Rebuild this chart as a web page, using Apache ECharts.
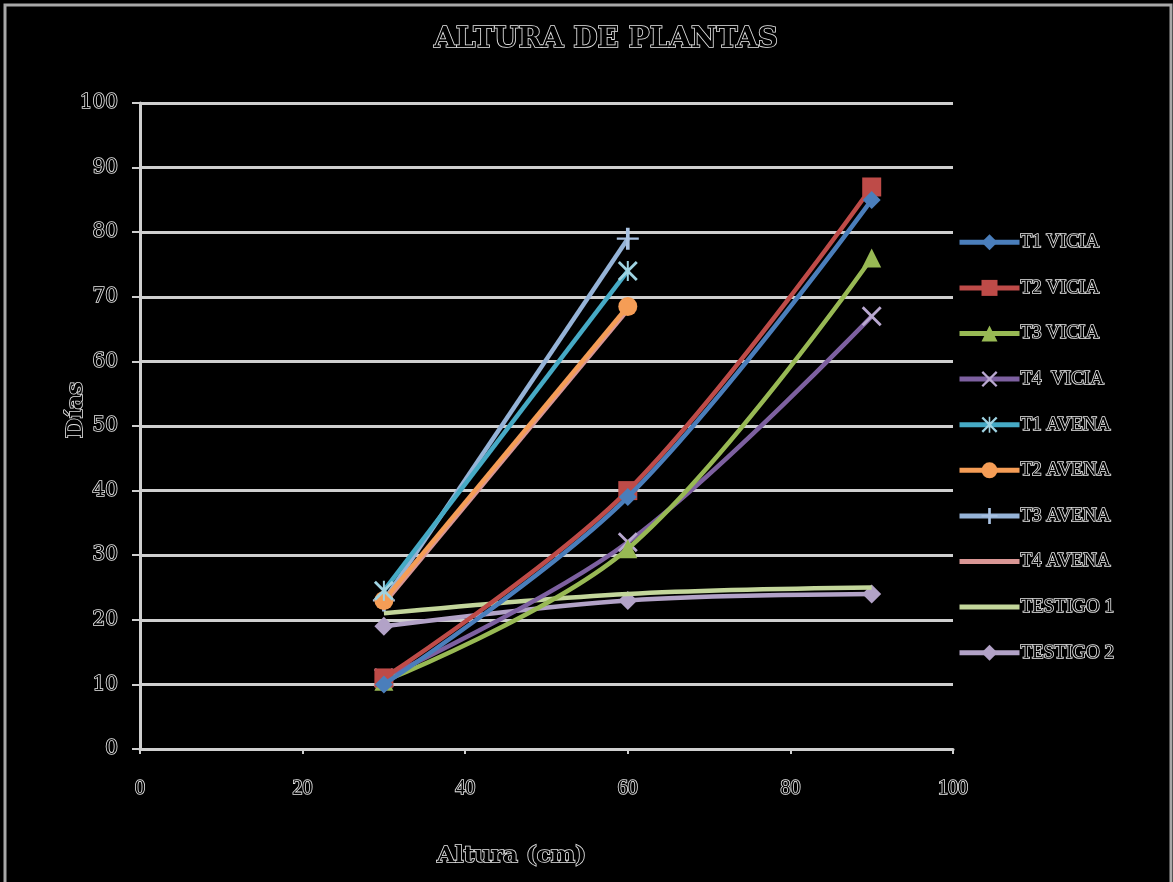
<!DOCTYPE html>
<html>
<head>
<meta charset="utf-8">
<script src="https://cdn.jsdelivr.net/npm/echarts@6/dist/echarts.min.js"></script>
<style>
  html, body { margin: 0; padding: 0; background: #000; }
  #chart { width: 1173px; height: 882px; }
</style>
</head>
<body>
<div id="chart"></div>
<script>
// Plant height measurements (x = height in cm, y = days)
const seriesNames = ['T1 VICIA', 'T2 VICIA', 'T3 VICIA', 'T4  VICIA', 'T1 AVENA',
                     'T2 AVENA', 'T3 AVENA', 'T4 AVENA', 'TESTIGO 1', 'TESTIGO 2'];
const xVicia = [30, 60, 90];
const xAvena = [30, 60];
const t1Vicia = [10, 39, 85];
const t2Vicia = [11, 40, 87];
const t3Vicia = [10.5, 31, 76];
const t4Vicia = [11, 32, 67];
const t1Avena = [24.5, 74];
const t2Avena = [23, 68.5];
const t3Avena = [23, 79];
const t4Avena = [22.5, 68];
const testigo1 = [21, 24, 25];
const testigo2 = [19, 23, 24];
const yTicks = [0, 10, 20, 30, 40, 50, 60, 70, 80, 90, 100];
const xTicks = [0, 20, 40, 60, 80, 100];

const seriesValues = [t1Vicia, t2Vicia, t3Vicia, t4Vicia, t1Avena, t2Avena, t3Avena, t4Avena, testigo1, testigo2];
const seriesX = [xVicia, xVicia, xVicia, xVicia, xAvena, xAvena, xAvena, xAvena, xVicia, xVicia];

const lineColors = ['#4a7ebb', '#be4b48', '#98b954', '#7d60a0', '#46aac5',
                    '#f59d56', '#95b3d7', '#d99694', '#c3d69b', '#b2a2c7'];
const markColors = ['#4a7ebb', '#be4b48', '#98b954', '#b9a8d0', '#9fd3e2',
                    '#f59d56', '#a9c2e2', '#d99694', '#c3d69b', '#b2a2c7'];

const crossPath = 'path://M0,1 L1,0 L5,4 L9,0 L10,1 L6,5 L10,9 L9,10 L5,6 L1,10 L0,9 L4,5 Z';
const starPath = 'path://M0,1 L1,0 L5,4 L9,0 L10,1 L6,5 L10,9 L9,10 L5,6 L1,10 L0,9 L4,5 Z M4.5,0 L5.5,0 L5.5,10 L4.5,10 Z';
const plusPath = 'path://M4.5,0 L5.5,0 L5.5,10 L4.5,10 Z M2,4.5 L8,4.5 L8,5.5 L2,5.5 Z';
const symbols = ['diamond', 'rect', 'triangle', crossPath, starPath, 'circle', plusPath, 'none', 'none', 'diamond'];
const symbolSizes = [18, 19, 19, 20, 20, 19, 22, 0, 0, 19];

const serif = '"Liberation Serif", "DejaVu Serif", serif';
const wideSerif = '"DejaVu Serif", serif';
const outlined = {
  color: '#000',
  textBorderColor: '#e6e6e6',
  textBorderWidth: 1.6,
  fontFamily: serif
};

const series = seriesNames.map((name, i) => ({
  name: name,
  type: 'line',
  smooth: 0.35,
  data: seriesX[i].map((x, j) => [x, seriesValues[i][j]]),
  symbol: symbols[i],
  symbolSize: symbolSizes[i],
  showSymbol: symbols[i] !== 'none',
  lineStyle: { color: lineColors[i], width: 4.5 },
  itemStyle: { color: markColors[i] },
  emphasis: { disabled: true },
  z: 10 - i
}));

// legend entries: line-only series get no marker in their icon
const legendData = seriesNames.map((name, i) => (
  symbols[i] === 'none'
    ? { name: name, itemStyle: { opacity: 0 } }
    : { name: name }
));

const chart = echarts.init(document.getElementById('chart'), null, { renderer: 'canvas' });
chart.setOption({
  backgroundColor: '#000',
  animation: false,
  title: {
    text: 'ALTURA DE PLANTAS',
    left: 601,
    top: 21,
    textAlign: 'center',
    textStyle: Object.assign({}, outlined, { fontFamily: wideSerif, fontSize: 28, fontWeight: 'bold' })
  },
  graphic: [{
    type: 'rect',
    shape: { x: 5, y: 5, width: 1166, height: 880 },
    style: { fill: 'none', stroke: '#a8a8a8', lineWidth: 3 },
    silent: true
  }],
  legend: {
    orient: 'vertical',
    left: 952,
    top: 227,
    itemWidth: 60,
    itemHeight: 20,
    itemGap: 25,
    data: legendData,
    lineStyle: { width: 5 },
    textStyle: Object.assign({}, outlined, { fontSize: 19, lineHeight: 20, padding: [0, 0, 0, -4] })
  },
  grid: { left: 140, right: 220, top: 103, bottom: 133, containLabel: false },
  xAxis: {
    type: 'value',
    min: xTicks[0],
    max: xTicks[xTicks.length - 1],
    interval: 20,
    name: 'Altura (cm)',
    nameLocation: 'middle',
    nameGap: 96,
    nameTextStyle: Object.assign({}, outlined, { fontFamily: wideSerif, fontSize: 23, fontWeight: 'bold', padding: [0, 70, 0, 0] }),
    axisLine: { onZero: false, lineStyle: { color: '#cfcfcf', width: 3 } },
    axisTick: { show: true, inside: false, length: 5, lineStyle: { color: '#cfcfcf', width: 2 } },
    axisLabel: Object.assign({}, outlined, { fontSize: 20, margin: 30 }),
    splitLine: { show: false }
  },
  yAxis: {
    type: 'value',
    min: yTicks[0],
    max: yTicks[yTicks.length - 1],
    interval: 10,
    name: 'Días',
    nameLocation: 'middle',
    nameGap: 52,
    nameMoveOverlap: false,
    nameRotate: 90,
    nameTextStyle: Object.assign({}, outlined, { fontFamily: wideSerif, fontSize: 23, fontWeight: 'bold', padding: [0, 0, 0, 32] }),
    axisLine: { show: true, lineStyle: { color: '#cfcfcf', width: 3 } },
    axisTick: { show: true, inside: false, length: 8, lineStyle: { color: '#cfcfcf', width: 2 } },
    axisLabel: Object.assign({}, outlined, { fontFamily: wideSerif, fontSize: 20, margin: 22 }),
    splitLine: { show: true, lineStyle: { color: '#cfcfcf', width: 3 } }
  },
  series: series
});
</script>
</body>
</html>
